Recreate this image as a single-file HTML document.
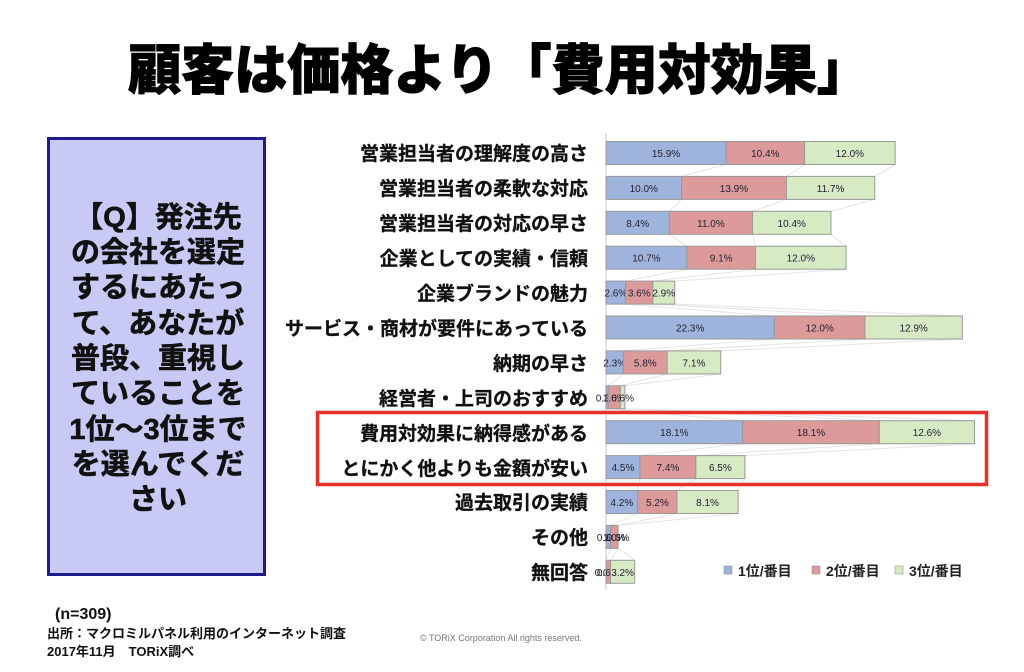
<!DOCTYPE html>
<html><head><meta charset="utf-8"><style>
html,body{margin:0;padding:0;background:#fff;}
svg{display:block;}
text{font-family:"Liberation Sans","Noto Sans CJK JP",sans-serif;}
</style></head><body>
<svg width="1024" height="672" viewBox="0 0 1024 672" xmlns="http://www.w3.org/2000/svg">
<rect width="1024" height="672" fill="#fff"/>
<text x="499" y="89" font-size="54" font-weight="900" text-anchor="middle" textLength="742" lengthAdjust="spacingAndGlyphs" fill="#000" stroke="#000" stroke-width="1">顧客は価格より「費用対効果」</text>

<rect x="48.5" y="138.5" width="216" height="436" fill="#c9c9f5" stroke="#1c1c8c" stroke-width="3"/>
<g font-size="29" font-weight="bold" text-anchor="middle" fill="#111" stroke="#111" stroke-width="0.6">
<text x="158" y="227">【Q】発注先</text>
<text x="158" y="262">の会社を選定</text>
<text x="158" y="297">するにあたっ</text>
<text x="158" y="333">て、あなたが</text>
<text x="158" y="368">普段、重視し</text>
<text x="158" y="403">ていることを</text>
<text x="158" y="439">1位～3位まで</text>
<text x="158" y="474">を選んでくだ</text>
<text x="158" y="509">さい</text>
</g>

<g font-weight="bold" fill="#111">
<text x="55" y="619" font-size="16">(n=309)</text>
<text x="47" y="638" font-size="13">出所：マクロミルパネル利用のインターネット調査</text>
<text x="47" y="656" font-size="13">2017年11月　TORiX調べ</text>
</g>
<text x="420" y="641" font-size="9" fill="#777" font-family="Liberation Serif,serif">© TORiX Corporation All rights reserved.</text>

<line x1="606" y1="133" x2="606" y2="590" stroke="#ccc" stroke-width="1"/>

<g font-size="19" font-weight="bold" text-anchor="end" fill="#111" stroke="#111" stroke-width="0.3">
<text x="588" y="160">営業担当者の理解度の高さ</text>
<text x="588" y="195">営業担当者の柔軟な対応</text>
<text x="588" y="230">営業担当者の対応の早さ</text>
<text x="588" y="265">企業としての実績・信頼</text>
<text x="588" y="300">企業ブランドの魅力</text>
<text x="588" y="335">サービス・商材が要件にあっている</text>
<text x="588" y="370">納期の早さ</text>
<text x="588" y="405">経営者・上司のおすすめ</text>
<text x="588" y="440">費用対効果に納得感がある</text>
<text x="588" y="475">とにかく他よりも金額が安い</text>
<text x="588" y="509">過去取引の実績</text>
<text x="588" y="544">その他</text>
<text x="588" y="579">無回答</text>
</g>

<g id="bars" stroke="#999" stroke-width="1" font-size="10" text-anchor="middle">
</g>

<rect x="317.5" y="412.5" width="669" height="72" fill="none" stroke="#e8302a" stroke-width="3.5"/>

<g font-size="14" font-weight="bold" fill="#222">
<rect x="724" y="566" width="8" height="8" fill="#9fb4dc" stroke="#888" stroke-width="0.5"/>
<text x="738" y="576">1位/番目</text>
<rect x="812" y="566" width="8" height="8" fill="#dc9a9a" stroke="#888" stroke-width="0.5"/>
<text x="826" y="576">2位/番目</text>
<rect x="895" y="566" width="8" height="8" fill="#d6eac4" stroke="#888" stroke-width="0.5"/>
<text x="909" y="576">3位/番目</text>
</g>
</svg>
<script>
(function(){
var d=[[15.9,10.4,12.0],[10.0,13.9,11.7],[8.4,11.0,10.4],[10.7,9.1,12.0],[2.6,3.6,2.9],[22.3,12.0,12.9],[2.3,5.8,7.1],[0.3,1.6,0.6],[18.1,18.1,12.6],[4.5,7.4,6.5],[4.2,5.2,8.1],[0.6,1.0,0.0],[0.0,0.6,3.2]];
var c=['#9fb4dc','#dc9a9a','#d6eac4'];
var g=document.getElementById('bars'),ns='http://www.w3.org/2000/svg',k=7.55,x0=606;
var ends=[];
d.forEach(function(r,i){
 var cy=153+34.9*i,x=x0,e=[];
 r.forEach(function(v,j){
  var w=v*k;
  var re=document.createElementNS(ns,'rect');
  re.setAttribute('x',x);re.setAttribute('y',cy-11.5);re.setAttribute('width',Math.max(w,0));re.setAttribute('height',23);re.setAttribute('fill',c[j]);
  g.appendChild(re);
  var t=document.createElementNS(ns,'text');
  t.setAttribute('x',x+w/2);t.setAttribute('y',cy+4);t.setAttribute('stroke','none');t.setAttribute('fill','#223');
  t.textContent=v.toFixed(1)+'%';g.appendChild(t);
  x+=w;e.push(x);
 });
 ends.push([cy,e]);
});
for(var i=0;i<ends.length-1;i++){for(var j=0;j<3;j++){
 var l=document.createElementNS(ns,'line');
 l.setAttribute('x1',ends[i][1][j]);l.setAttribute('y1',ends[i][0]+11.5);l.setAttribute('x2',ends[i+1][1][j]);l.setAttribute('y2',ends[i+1][0]-11.5);l.setAttribute('stroke','#e4e4e4');
 g.insertBefore(l,g.firstChild);
}}
})();
</script>
</body></html>
